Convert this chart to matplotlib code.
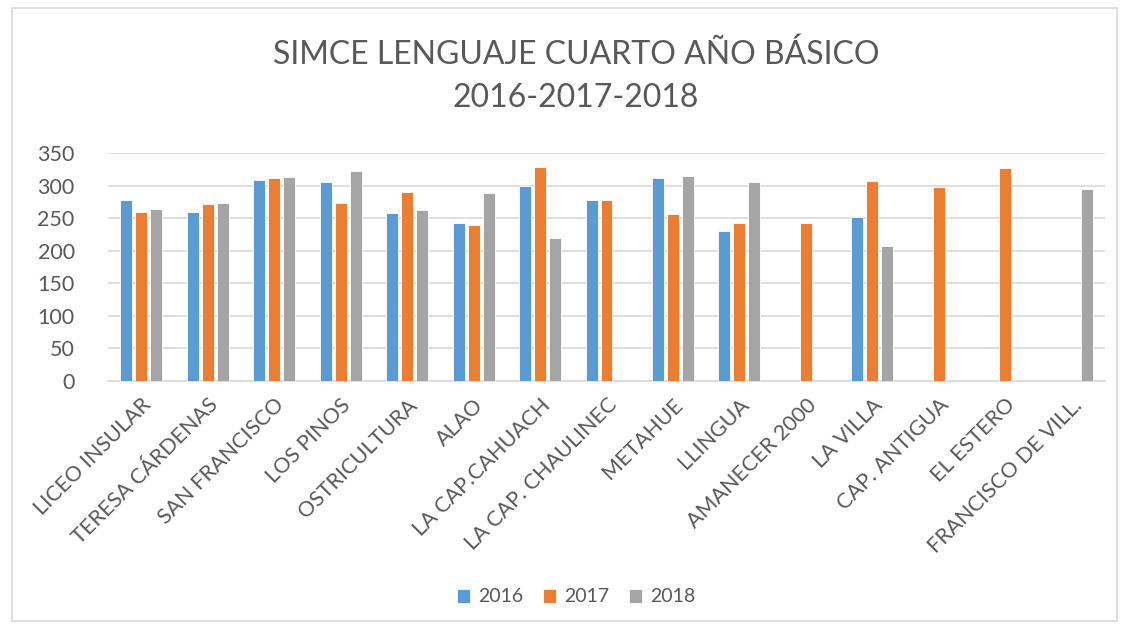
import numpy as np
import matplotlib
matplotlib.use("Agg")
import matplotlib.pyplot as plt
from matplotlib.patches import Rectangle

categories = ["LICEO INSULAR", "TERESA CÁRDENAS", "SAN FRANCISCO", "LOS PINOS",
              "OSTRICULTURA", "ALAO", "LA CAP.CAHUACH", "LA CAP. CHAULINEC",
              "METAHUE", "LLINGUA", "AMANECER 2000", "LA VILLA",
              "CAP. ANTIGUA", "EL ESTERO", "FRANCISCO DE VILL."]
nan = np.nan
v2016 = [278, 260, 309, 306, 258, 242, 299, 278, 311, 231, nan, 252, nan, nan, nan]
v2017 = [260, 272, 311, 274, 290, 240, 329, 278, 256, 243, 243, 307, 298, 327, nan]
v2018 = [264, 274, 313, 323, 262, 288, 219, nan, 315, 305, nan, 207, nan, nan, 295]
series_labels = ["2016", "2017", "2018"]
colors = ["#5B9BD5", "#ED7D31", "#A5A5A5"]
yticks = [0, 50, 100, 150, 200, 250, 300, 350]

plt.rcParams['font.family'] = ['Lato', 'DejaVu Sans']

fig = plt.figure(figsize=(11.23, 6.29), dpi=100)
ax = fig.add_axes([108/1123, 1-381/629, (1105-108)/1123, (381-153)/629])

x = np.arange(len(categories))
w = 0.18
off = 0.225
for i, (vals, lab, c) in enumerate(zip([v2016, v2017, v2018], series_labels, colors)):
    ax.bar(x + (i-1)*off, vals, width=w, color=c, label=lab,
           edgecolor='white', linewidth=0.6, zorder=3)

ax.set_xlim(-0.5, len(categories)-0.5)
ax.set_ylim(0, 350)
ax.set_yticks(yticks)
ax.yaxis.grid(True, color='#D9D9D9', linewidth=1.2, zorder=0)
for s in ['top', 'right', 'left']:
    ax.spines[s].set_visible(False)
ax.spines['bottom'].set_color('#D9D9D9')
ax.spines['bottom'].set_linewidth(1.2)
ax.tick_params(axis='both', length=0, colors='#595959')
ax.tick_params(axis='y', labelsize=15.5, pad=24)
ax.set_xticks(x)
ax.set_xticklabels(categories, rotation=45, ha='right', rotation_mode='anchor',
                   fontsize=15.5, color='#595959')
ax.tick_params(axis='x', pad=10)

fig.text(0.513, 1-55/629, "SIMCE LENGUAJE CUARTO AÑO BÁSICO", ha='center', va='center',
         fontsize=23, color='#595959')
fig.text(0.513, 1-98/629, "2016-2017-2018", ha='center', va='center',
         fontsize=23, color='#595959')

leg = fig.legend(loc='center', bbox_to_anchor=(0.513, 1-597/629), ncol=3, frameon=False,
                 fontsize=14, handlelength=0.7, handleheight=0.7, columnspacing=1.0,
                 handletextpad=0.4, labelcolor='#595959')

fig.patches.append(Rectangle((12/1123, 1-621/629), (1117-12)/1123, (621-8)/629,
                             transform=fig.transFigure, fill=False,
                             edgecolor='#D9D9D9', linewidth=1.2))

fig.savefig("out.png", dpi=100)
